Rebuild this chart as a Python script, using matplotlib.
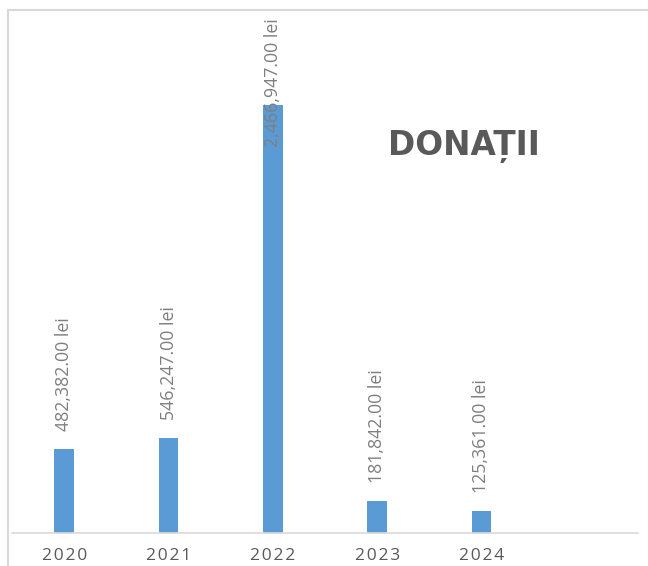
import matplotlib
matplotlib.use("Agg")
import matplotlib.pyplot as plt
from matplotlib.lines import Line2D

years = ["2020", "2021", "2022", "2023", "2024"]
donations = [482382.00, 546247.00, 2466947.00, 181842.00, 125361.00]
title_text = "DONAȚII"

W, H = 648, 566
fig = plt.figure(figsize=(W / 100, H / 100), dpi=100)
ax = fig.add_axes([12 / W, (H - 533) / H, (638 - 12) / W, (533 - 12.5) / H])

x = list(range(len(years)))
bars = ax.bar(x, donations, width=0.19, color="#5b9bd5", zorder=2)
ax.set_xlim(-0.5, 5.5)
ax.set_ylim(0, 3000000)

for s in ["top", "right", "left"]:
    ax.spines[s].set_visible(False)
ax.spines["bottom"].set_color("#d9d9d9")
ax.spines["bottom"].set_linewidth(1.2)
ax.set_yticks([])
ax.set_xticks(x)
spaced = ["\u200a".join(y) for y in years]
ax.set_xticklabels(spaced, family=["Open Sans", "DejaVu Sans"], fontsize=12.5, color="#595959")
ax.tick_params(axis="x", length=0, pad=11)

labels = []
for xi, v in zip(x, donations):
    t = ax.annotate(f"{v:,.2f} lei", xy=(xi, v), xytext=(0, 13),
                    textcoords="offset points", rotation=90,
                    ha="center", va="bottom", fontsize=12.8,
                    fontfamily="Open Sans", color="#7f7f7f", zorder=3)
    labels.append(t)

fig.canvas.draw()
r = fig.canvas.get_renderer()
ax_top = ax.get_window_extent(r).y1
for t in labels:
    bb = t.get_window_extent(r)
    if bb.y1 > ax_top - 5:
        t.xy = (t.xy[0], 1.0)
        t.xycoords = ("data", "axes fraction")
        t.set_va("top")
        t.xyann = (0, -4)

fig.text(464 / W, 1 - 146 / H, title_text, ha="center", va="center",
         fontsize=23.6, fontweight="bold", family="DejaVu Sans", color="#595959")

# outer chart frame
fc = "#d9d9d9"
fig.add_artist(Line2D([8 / W, 1], [1 - 10 / H, 1 - 10 / H], color=fc, lw=1.5, transform=fig.transFigure))
fig.add_artist(Line2D([8 / W, 8 / W], [0, 1 - 10 / H], color=fc, lw=1.5, transform=fig.transFigure))

fig.savefig("out.png", dpi=100)
